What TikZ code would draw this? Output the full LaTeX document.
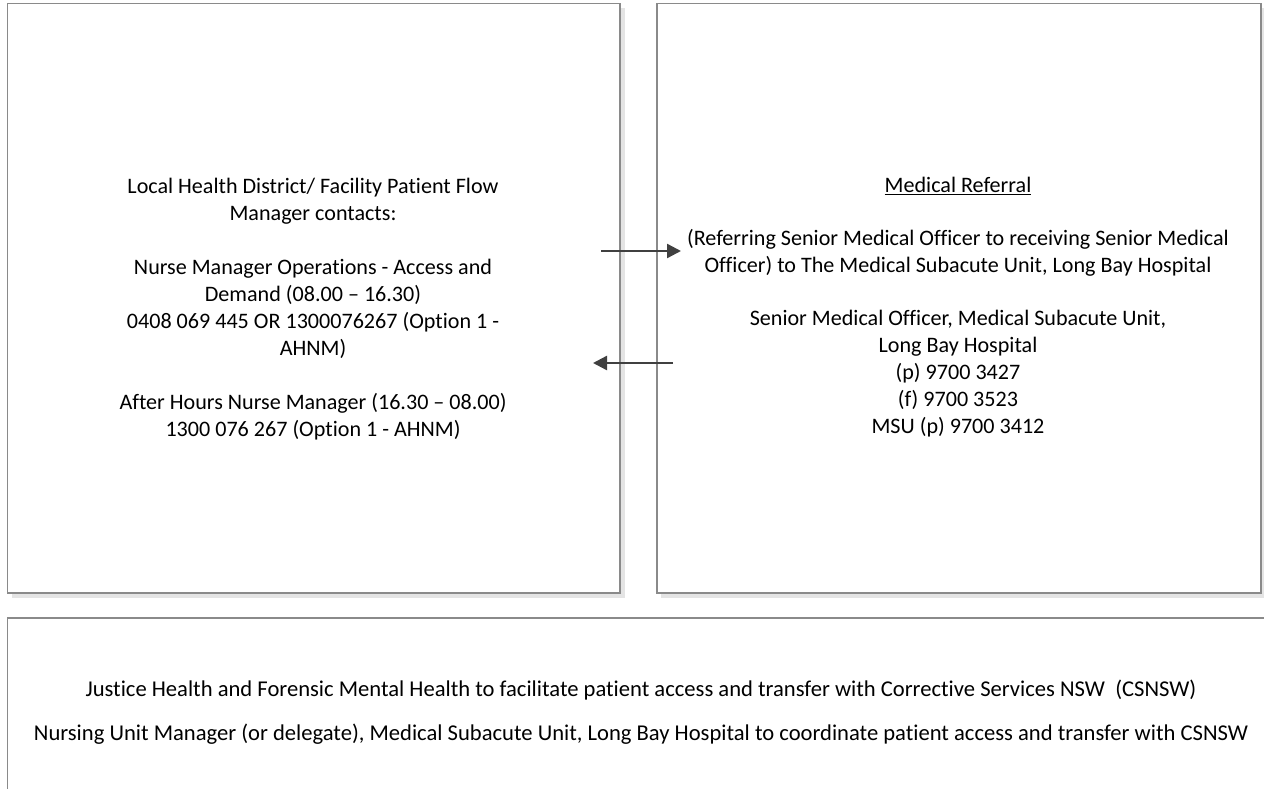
\documentclass[tikz,border=0pt]{standalone}
\usepackage{fontspec}
\setmainfont{Carlito}[Ligatures={NoCommon,NoRequired,NoContextual}]
\usetikzlibrary{arrows.meta}
\definecolor{boxline}{HTML}{8A8A8A}
\definecolor{boxshade}{HTML}{E4E4E4}
\definecolor{arrowgrey}{HTML}{404040}
\tikzset{
  panel/.style={draw=boxline, line width=1.6pt, fill=white},
  shade/.style={fill=boxshade},
  info/.style={align=center, inner sep=0pt, font=\fontsize{22.1}{27}\selectfont},
  wideinfo/.style={info, font=\fontsize{22.6}{27}\selectfont},
  flow/.style={draw=arrowgrey, line width=2.4pt, -{Triangle[length=14pt,width=14pt]}}
}
\begin{document}
\begin{tikzpicture}[x=1pt,y=-1pt]
  \useasboundingbox (0,0) rectangle (1264,789);
  % shadows
  \fill[shade] (12,8) rectangle (625,598);
  \fill[shade] (661,8) rectangle (1266,598);
  % panels
  \draw[panel] (7.5,3.7) rectangle (620,593);
  \draw[panel] (657,3.7) rectangle (1261,593);
  \draw[panel] (7.5,618) rectangle (1280,800);
  % left panel
  \node[info] (lhd) at (313,309) {Local Health District/ Facility Patient Flow\\
    Manager contacts:\\[27pt]
    Nurse Manager Operations - Access and\\
    Demand (08.00 -- 16.30)\\
    0408 069 445 OR 1300076267 (Option 1 -\\
    AHNM)\\[27pt]
    After Hours Nurse Manager (16.30 -- 08.00)\\
    1300 076 267 (Option 1 - AHNM)};
  % right panel
  \node[info] (refhead) at (958,186) {\underline{Medical Referral}};
  \node[info] (refpath) at (958,253) {(Referring Senior Medical Officer to receiving Senior Medical\\
    Officer) to The Medical Subacute Unit, Long Bay Hospital};
  \node[info] (smo) at (958,374) {Senior Medical Officer, Medical Subacute Unit,\\
    Long Bay Hospital\\
    (p) 9700 3427\\
    (f) 9700 3523\\
    MSU (p) 9700 3412};
  % bottom panel
  \node[wideinfo] (jh) at (641,690) {Justice Health and Forensic Mental Health to facilitate patient access and transfer with Corrective Services NSW\ \ (CSNSW)};
  \node[wideinfo] (num) at (641,734) {Nursing Unit Manager (or delegate), Medical Subacute Unit, Long Bay Hospital to coordinate patient access and transfer with CSNSW};
  % arrows
  \coordinate (outA) at (601,251);
  \coordinate (inA) at (681,251);
  \coordinate (outB) at (673,363);
  \coordinate (inB) at (593,363);
  \draw[flow] (outA) -- (inA);
  \draw[flow] (outB) -- (inB);
\end{tikzpicture}
\end{document}
